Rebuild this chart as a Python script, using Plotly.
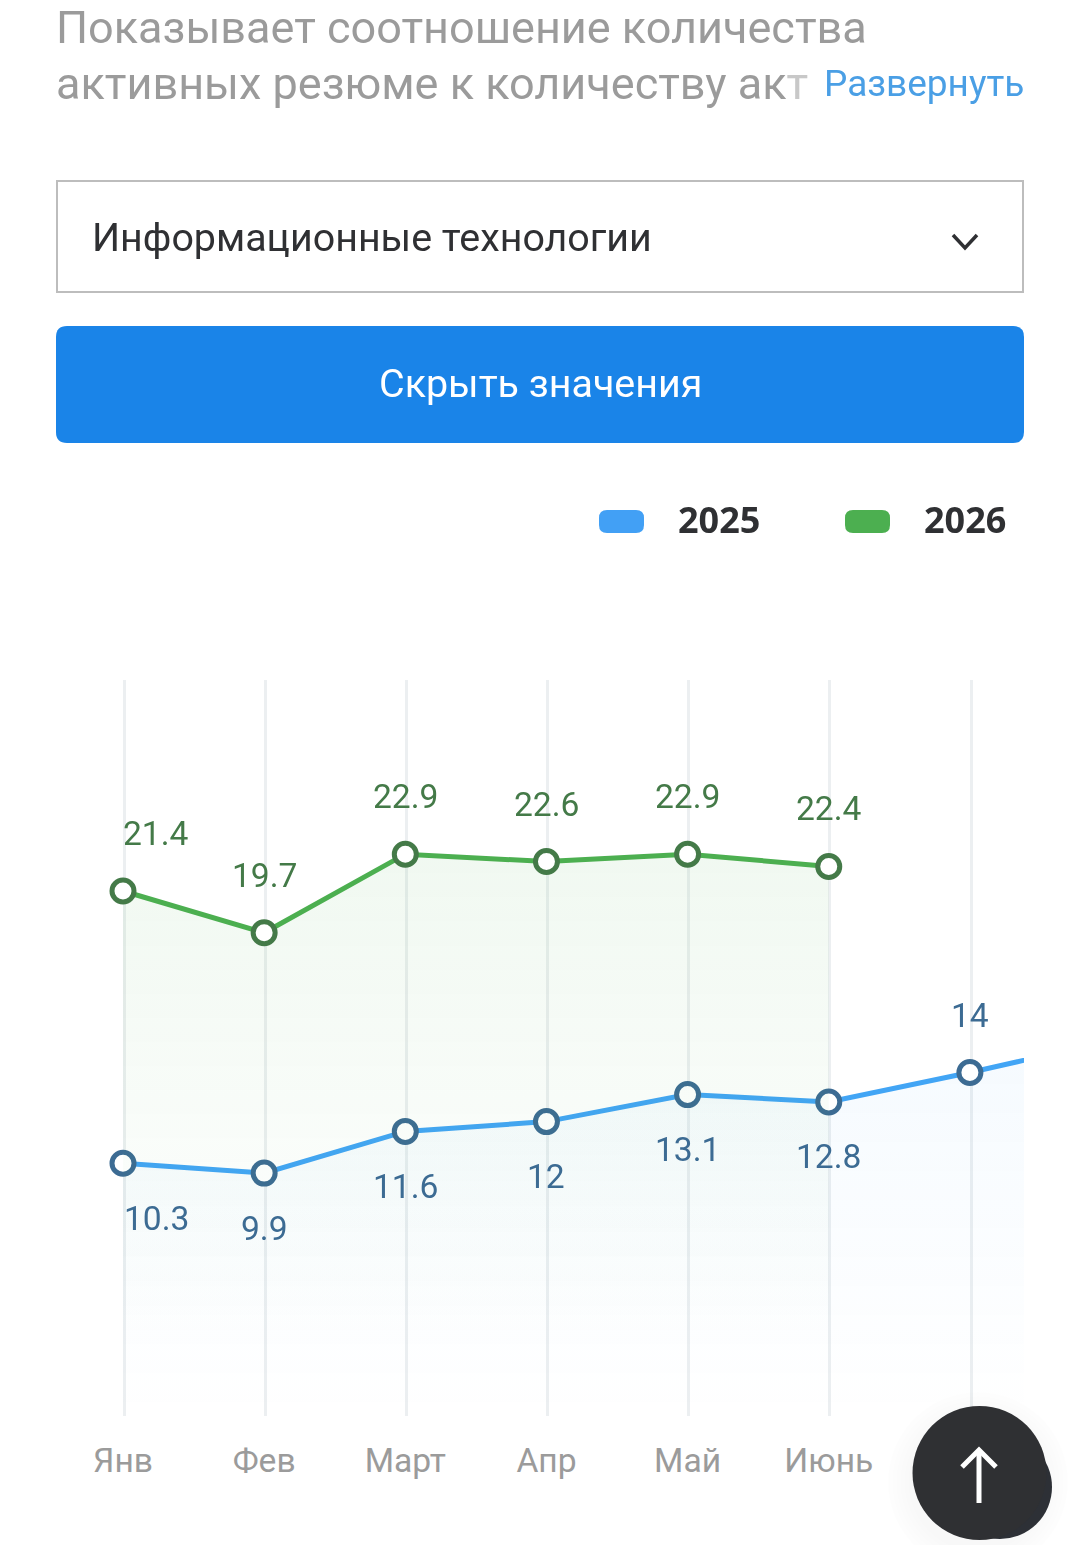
"""Соотношение резюме и вакансий: recreated phone screenshot with Plotly."""

import plotly.graph_objects as go

W, H = 1080, 1545

months = ["Янв", "Фев", "Март", "Апр", "Май", "Июнь", "Июль", "Авг"]
shown_months = ["Янв", "Фев", "Март", "Апр", "Май", "Июнь"]
values_2025 = [10.3, 9.9, 11.6, 12, 13.1, 12.8, 14, 15.3]
values_2026 = [21.4, 19.7, 22.9, 22.6, 22.9, 22.4]

GREEN = "#4caf50"
GREEN_DARK = "#447a48"
BLUE = "#42a5f5"
BLUE_DARK = "#3c6b93"
GREY = "#9b9b9b"
DARK = "#2f3033"
FONT = "Roboto, sans-serif"

PLOT_L, PLOT_R, PLOT_T, PLOT_B = 56, 1024, 680, 1416
FIRST_X, STEP_X = 123, 141.15


def px(x):
    return x / W


def py(y):
    return 1 - y / H


def rounded_rect(x0, y0, x1, y1, r, color):
    """Rounded rectangle in page pixels, as a paper-referenced path."""
    p = lambda x, y: f"{px(x)},{py(y)}"
    path = (
        f"M {p(x0 + r, y0)} L {p(x1 - r, y0)} Q {p(x1, y0)} {p(x1, y0 + r)} "
        f"L {p(x1, y1 - r)} Q {p(x1, y1)} {p(x1 - r, y1)} "
        f"L {p(x0 + r, y1)} Q {p(x0, y1)} {p(x0, y1 - r)} "
        f"L {p(x0, y0 + r)} Q {p(x0, y0)} {p(x0 + r, y0)} Z"
    )
    return dict(type="path", xref="paper", yref="paper", path=path,
                fillcolor=color, line=dict(width=0), layer="above")


def polyline(points, color, width):
    path = "M " + " L ".join(f"{px(x)},{py(y)}" for x, y in points)
    return dict(type="path", xref="paper", yref="paper", path=path,
                line=dict(color=color, width=width), layer="above")


def circle(cx, cy, r, color):
    return dict(type="circle", xref="paper", yref="paper",
                x0=px(cx - r), x1=px(cx + r), y0=py(cy + r), y1=py(cy - r),
                fillcolor=color, line=dict(width=0), layer="above")


def page_text(text, x, y, size, color, anchor="left", family=FONT):
    return dict(text=text, x=px(x), y=py(y), xref="paper", yref="paper",
                xanchor=anchor, yanchor="middle", showarrow=False,
                font=dict(family=family, size=size, color=color))


def value_label(month, value, color, up, shift=0):
    return dict(text=f"{value:g}", x=month, y=value, xref="x2", yref="y",
                xshift=shift, yshift=57.5 if up else -55, showarrow=False,
                xanchor="center", yanchor="middle",
                font=dict(family=FONT, size=33.6, color=color))


fig = go.Figure()

# Invisible trace on the lower axis, it only carries the vertical grid
fig.add_trace(go.Scatter(x=months, y=values_2025, xaxis="x", yaxis="y", mode="markers",
                         opacity=0, hoverinfo="skip", showlegend=False))

fig.add_trace(go.Scatter(
    x=months, y=values_2025, name="2025", xaxis="x2", yaxis="y",
    mode="lines+markers", fill="tozeroy",
    fillgradient=dict(type="vertical", start=15, stop=0,
                      colorscale=[[0, "rgba(66,165,245,0.05)"], [1, "rgba(66,165,245,0)"]]),
    line=dict(color=BLUE, width=5),
    marker=dict(size=22, color="white", line=dict(color=BLUE_DARK, width=5)),
    showlegend=False,
))
fig.add_trace(go.Scatter(
    x=shown_months, y=values_2026, name="2026", xaxis="x2", yaxis="y",
    mode="lines+markers", fill="tozeroy",
    fillgradient=dict(type="vertical", start=23, stop=3,
                      colorscale=[[0, "rgba(76,175,80,0.08)"], [1, "rgba(76,175,80,0)"]]),
    line=dict(color=GREEN, width=5),
    marker=dict(size=22, color="white", line=dict(color=GREEN_DARK, width=5)),
    showlegend=False,
))

shapes = [
    # dropdown and button
    dict(type="rect", xref="paper", yref="paper", x0=px(57), x1=px(1023), y0=py(292), y1=py(181),
         line=dict(color="#bdbdbd", width=2), fillcolor="white", layer="below"),
    polyline([(953, 235), (965, 248), (977, 235)], DARK, 3.5),
    rounded_rect(56, 326, 1024, 443, 11, "#1a84e8"),
    # legend swatches
    rounded_rect(599, 510, 644, 533, 8, "#42a0f5"),
    rounded_rect(845, 510, 890, 533, 8, GREEN),
]

# scroll-to-top button with its soft shadow
for r in (90, 86, 82, 78, 74, 70):
    shapes.append(circle(978, 1482, r, "rgba(0,0,0,0.009)"))
shapes += [
    circle(1000, 1487, 52, "#2d3036"),
    circle(979.5, 1473, 67, DARK),
    polyline([(979, 1450), (979, 1503)], "white", 5),
    polyline([(962, 1467), (979, 1450), (996, 1467)], "white", 5),
]

annotations = [
    page_text("Показывает соотношение количества", 54, 27, 45, GREY),
    # second line fades out under the link
    page_text("активных резюме к количеству ак"
              "<span style='color:#c8c8c8'>т</span>", 54, 83, 45, GREY),
    page_text("Развернуть", 1026, 83, 37, "#4a9fe5", anchor="right"),
    page_text("Информационные технологии", 90, 238, 39.4, DARK),
    page_text("Скрыть значения", 540, 384, 39.4, "white", anchor="center"),
    page_text("<b>2025</b>", 676, 519, 36, DARK, family="Noto Sans, sans-serif"),
    page_text("<b>2026</b>", 922, 519, 36, DARK, family="Noto Sans, sans-serif"),
]

for i, (month, value) in enumerate(zip(shown_months, values_2026)):
    annotations.append(value_label(month, value, GREEN_DARK, True, 33 if i == 0 else 0))
for i, (month, value) in enumerate(zip(months[:7], values_2025[:7])):
    # the last visible point carries its label above the line
    annotations.append(value_label(month, value, BLUE_DARK, month == "Июль", 33 if i == 0 else 0))

x_range = [(PLOT_L - FIRST_X) / STEP_X, (PLOT_R - FIRST_X) / STEP_X]
grid_shift = 1.2 / STEP_X

fig.update_layout(
    width=W, height=H,
    margin=dict(l=0, r=0, t=0, b=0),
    paper_bgcolor="white",
    plot_bgcolor="white",
    showlegend=False,
    font=dict(family=FONT, size=33, color=GREY),
    xaxis=dict(
        domain=[px(PLOT_L), px(PLOT_R)], type="category", categoryorder="array",
        categoryarray=months, range=[x_range[0] - grid_shift, x_range[1] - grid_shift],
        showgrid=True, gridcolor="#eceff1", gridwidth=3,
        showticklabels=False, ticks="", showline=False, zeroline=False,
        tickmode="array", tickvals=months[:7],
    ),
    xaxis2=dict(
        overlaying="x", side="bottom", type="category", categoryorder="array",
        categoryarray=months, range=x_range, showgrid=False, showline=False, zeroline=False,
        tickmode="array", tickvals=shown_months, ticktext=shown_months, ticks="",
        ticklabelstandoff=21, tickfont=dict(family=FONT, size=33.6, color=GREY),
    ),
    yaxis=dict(
        domain=[py(PLOT_B), py(PLOT_T)], range=[0, 30], visible=False,
    ),
    shapes=shapes,
    annotations=annotations,
)

fig.write_html("out.html", config=dict(displayModeBar=False),
               post_script="document.body.style.margin='0';")
